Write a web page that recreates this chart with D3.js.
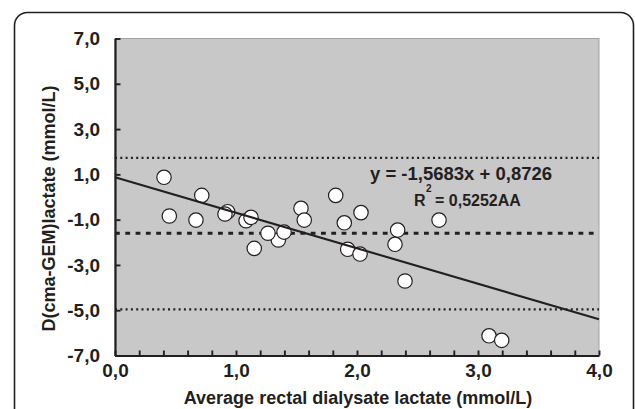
<!DOCTYPE html>
<html>
<head>
<meta charset="utf-8">
<script src="https://cdn.jsdelivr.net/npm/d3@7"></script>
<style>
  html, body { margin: 0; padding: 0; background: #fff; }
  svg { display: block; }
  text { font-family: "Liberation Sans", Arial, Helvetica, sans-serif; font-weight: bold; fill: #231f20; }
</style>
</head>
<body>
<svg id="chart" width="635" height="409"></svg>
<script>
// ---- data ----
const xValues = [0.405, 0.717, 0.449, 0.669, 0.931, 0.909, 1.083, 1.124, 1.350, 1.264, 1.397, 1.151,
                 1.537, 1.564, 1.824, 2.033, 1.895, 2.678, 2.336, 2.314, 1.923, 2.025, 2.397, 3.091, 3.196];
const yValues = [0.87, 0.07, -0.84, -1.02, -0.65, -0.75, -1.05, -0.90, -1.90, -1.60, -1.55, -2.27,
                 -0.50, -1.02, 0.07, -0.69, -1.14, -1.02, -1.46, -2.09, -2.31, -2.52, -3.71, -6.13, -6.33];
const refLineValues = [1.73, -1.60, -4.96];          // upper limit, mean, lower limit
const regSlope = -1.5683;
const regIntercept = 0.8726;
const xTickValues = [0, 1, 2, 3, 4];
const xTickLabels = ["0,0", "1,0", "2,0", "3,0", "4,0"];
const xMinorTicks = [0, 0.2, 0.4, 0.6, 0.8, 1, 1.2, 1.4, 1.6, 1.8, 2, 2.2, 2.4, 2.6, 2.8, 3, 3.2, 3.4, 3.6, 3.8, 4];
const yTickValues = [7, 5, 3, 1, -1, -3, -5, -7];
const yTickLabels = ["7,0", "5,0", "3,0", "1,0", "-1,0", "-3,0", "-5,0", "-7,0"];
const xTitle = "Average rectal dialysate lactate (mmol/L)";
const yTitle = "D(cma-GEM)lactate (mmol/L)";
const eqLine1 = "y = -1,5683x + 0,8726";
const eqLine2a = "R";
const eqLine2sup = "2";
const eqLine2b = "= 0,5252AA";

// ---- layout ----
const svg = d3.select("#chart");
const x = d3.scaleLinear().domain([0, 4]).range([115, 599]);
const y = d3.scaleLinear().domain([-7, 7]).range([355.5, 38.5]);

// outer rounded frame
svg.append("rect")
  .attr("x", 14.5).attr("y", 12.5)
  .attr("width", 619).attr("height", 440)
  .attr("rx", 13).attr("ry", 13)
  .attr("fill", "#fff").attr("stroke", "#231f20").attr("stroke-width", 1.6);

// plot background
svg.append("rect")
  .attr("x", x(0)).attr("y", y(7))
  .attr("width", x(4) - x(0)).attr("height", y(-7) - y(7))
  .attr("fill", "#c8c8c9").attr("stroke", "#a3a3a3").attr("stroke-width", 1);

// reference lines
const refStyles = [
  { w: 2.2, dash: "2,3.3" },
  { w: 2.8, dash: "4.8,5.5" },
  { w: 2.2, dash: "2,3.3" }
];
svg.append("g").selectAll("line").data(refLineValues).join("line")
  .attr("x1", x(0)).attr("x2", x(4))
  .attr("y1", d => y(d)).attr("y2", d => y(d))
  .attr("stroke", "#231f20")
  .attr("stroke-width", (d, i) => refStyles[i].w)
  .attr("stroke-dasharray", (d, i) => refStyles[i].dash);

// points
const pts = xValues.map((v, i) => ({ x: v, y: yValues[i] }));
svg.append("g").selectAll("circle").data(pts).join("circle")
  .attr("cx", d => x(d.x)).attr("cy", d => y(d.y))
  .attr("r", 7.2)
  .attr("fill", "#fff").attr("stroke", "#231f20").attr("stroke-width", 1.2);

// regression line
const regDomain = [0, 4];
svg.append("line")
  .attr("x1", x(regDomain[0])).attr("y1", y(regSlope * regDomain[0] + regIntercept))
  .attr("x2", x(regDomain[1])).attr("y2", y(regSlope * regDomain[1] + regIntercept))
  .attr("stroke", "#231f20").attr("stroke-width", 2.1);

// axes
const xAxis = d3.axisBottom(x)
  .tickValues(xMinorTicks)
  .tickSizeInner(-5).tickSizeOuter(0).tickPadding(8.5)
  .tickFormat(d => {
    const k = xTickValues.findIndex(t => Math.abs(t - d) < 1e-9);
    return k >= 0 ? xTickLabels[k] : "";
  });
const gx = svg.append("g").attr("transform", `translate(0,${y(-7)})`).call(xAxis);

const yAxis = d3.axisLeft(y)
  .tickValues(yTickValues)
  .tickSizeInner(-5.5).tickSizeOuter(0).tickPadding(15)
  .tickFormat((d, i) => yTickLabels[i]);
const gy = svg.append("g").attr("transform", `translate(${x(0)},0)`).call(yAxis);

[gx, gy].forEach(g => {
  g.select(".domain").attr("stroke", "#231f20").attr("stroke-width", 2.2);
  g.selectAll(".tick line").attr("stroke", "#231f20").attr("stroke-width", 1.9);
  g.selectAll(".tick text")
    .style("font-family", '"Liberation Sans", Arial, Helvetica, sans-serif')
    .style("font-weight", "bold")
    .attr("font-size", 19).attr("fill", "#231f20");
});

// axis titles
svg.append("text")
  .attr("x", 358).attr("y", 404)
  .attr("text-anchor", "middle").attr("font-size", 18)
  .text(xTitle);
svg.append("text")
  .attr("transform", "translate(55,208.5) rotate(-90)")
  .attr("text-anchor", "middle").attr("font-size", 18)
  .text(yTitle);

// equation
svg.append("text")
  .attr("x", 370).attr("y", 179.5)
  .attr("font-size", 18.5)
  .text(eqLine1);
svg.append("text").attr("x", 414).attr("y", 205.5).attr("font-size", 16).text(eqLine2a);
svg.append("text").attr("x", 426).attr("y", 192).attr("font-size", 10).text(eqLine2sup);
svg.append("text").attr("x", 435).attr("y", 205.5).attr("font-size", 16).text(eqLine2b);
</script>
</body>
</html>
